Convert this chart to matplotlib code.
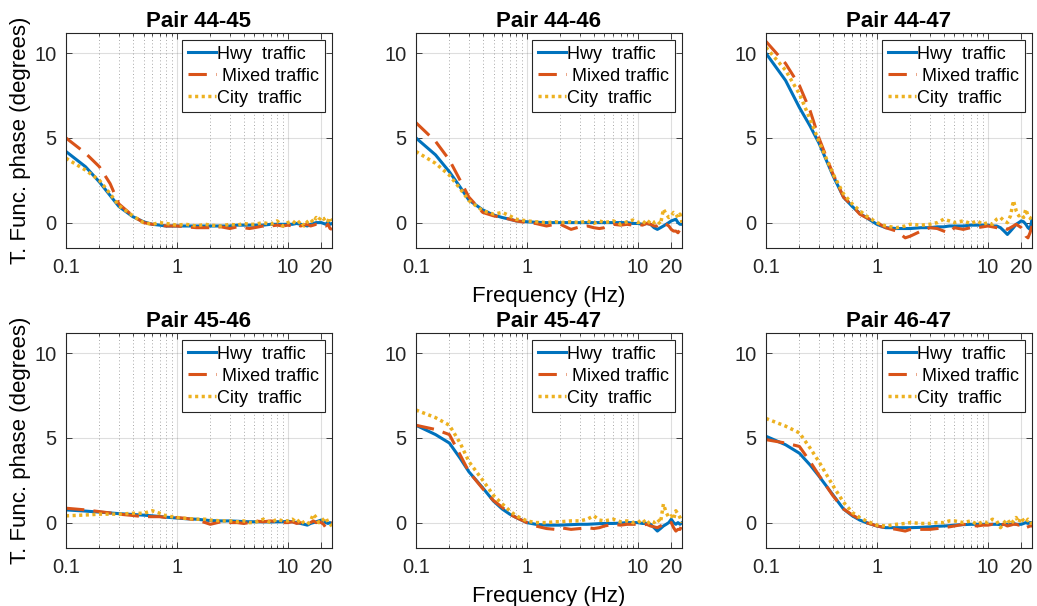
#!/usr/bin/env python3
"""Transfer-function phase vs frequency for six sensor pairs, three traffic types."""
import matplotlib
matplotlib.use("Agg")
import matplotlib.pyplot as plt
from matplotlib.ticker import FixedLocator, NullFormatter

plt.rcParams.update({
    "font.family": ["Liberation Sans", "DejaVu Sans"],
    "font.size": 14,
    "axes.edgecolor": "#262626",
    "xtick.color": "#262626",
    "ytick.color": "#262626",
    "text.color": "#000000",
})

BLUE = "#0072BD"
ORANGE = "#D95319"
YELLOW = "#EDB120"

# shared frequency grid (Hz)
freq = [0.1, 0.15, 0.2, 0.25, 0.3, 0.4, 0.5, 0.6, 0.7, 0.8,
        1.0, 1.2, 1.5, 1.8, 2.0, 2.5, 3.0, 3.5, 4.0, 4.5,
        5, 6, 7, 8, 9, 10, 11, 12, 13, 14,
        15, 16, 17, 18, 19, 20, 21, 22, 23, 24, 25]

pairs = ["Pair 44-45", "Pair 44-46", "Pair 44-47",
         "Pair 45-46", "Pair 45-47", "Pair 46-47"]

# phase (degrees) per pair
hwy_4445 = [4.2, 3.3, 2.4, 1.6, 0.95, 0.35, 0.05, -0.1, -0.15, -0.2,
            -0.2, -0.2, -0.2, -0.2, -0.2, -0.2, -0.2, -0.15, -0.15, -0.15,
            -0.15, -0.15, -0.1, -0.1, -0.1, -0.1, -0.1, -0.05, -0.1, -0.15,
            -0.2, -0.1, -0.05, 0.0, 0.0, 0.0, -0.05, -0.1, 0.05, -0.1, -0.05]
mix_4445 = [5.0, 4.1, 3.3, 2.3, 1.1, 0.4, 0.0, -0.1, -0.15, -0.2,
            -0.2, -0.25, -0.3, -0.3, -0.3, -0.25, -0.35, -0.25, -0.3, -0.35,
            -0.3, -0.2, -0.2, -0.15, -0.2, -0.15, -0.2, -0.1, -0.2, -0.15,
            -0.1, -0.2, -0.15, -0.1, -0.1, -0.1, -0.15, -0.2, -0.1, -0.35, -0.4]
city_4445 = [3.8, 3.1, 2.5, 1.7, 1.0, 0.4, 0.0, -0.1, 0.0, -0.05,
             -0.15, -0.1, -0.2, -0.1, -0.15, -0.2, -0.1, -0.15, -0.05, -0.1,
             -0.1, 0.0, -0.1, 0.1, -0.2, 0.0, 0.1, -0.1, 0.1, -0.2,
             0.05, 0.2, 0.0, 0.3, 0.15, 0.35, 0.2, 0.3, 0.1, 0.3, 0.1]

hwy_4446 = [5.0, 4.0, 3.0, 2.1, 1.33, 0.75, 0.45, 0.3, 0.2, 0.1,
            0.05, 0.02, 0.0, 0.0, 0.0, 0.0, 0.0, 0.0, 0.0, 0.0,
            0.0, 0.0, 0.0, 0.0, -0.05, -0.05, -0.1, -0.05, -0.1, -0.3,
            -0.4, -0.3, -0.2, -0.1, 0.0, 0.1, 0.15, 0.2, 0.0, -0.1, -0.1]
mix_4446 = [5.9, 4.8, 3.7, 2.5, 1.5, 0.6, 0.4, 0.3, 0.2, 0.1,
            0.0, -0.05, -0.2, -0.1, -0.1, -0.4, -0.25, -0.2, -0.3, -0.35,
            -0.3, -0.1, -0.15, -0.1, -0.15, -0.1, -0.15, -0.05, -0.1, -0.2,
            -0.2, -0.1, 0.0, -0.1, -0.2, -0.4, -0.5, -0.5, -0.6, -0.4, -0.2]
city_4446 = [4.2, 3.5, 2.8, 2.0, 1.3, 0.7, 0.5, 0.6, 0.4, 0.2,
             0.1, 0.05, 0.0, 0.05, 0.0, 0.05, 0.0, 0.1, -0.05, 0.1,
             0.0, 0.1, -0.1, 0.05, 0.15, 0.0, 0.1, -0.1, 0.15, 0.0,
             0.1, -0.1, 0.8, 0.5, 0.3, 0.4, 0.6, 0.5, 0.3, 0.5, 0.0]

hwy_4447 = [10.0, 8.4, 6.8, 5.7, 4.7, 2.8, 1.5, 0.95, 0.55, 0.3,
            -0.1, -0.3, -0.35, -0.35, -0.35, -0.3, -0.3, -0.25, -0.25, -0.2,
            -0.2, -0.2, -0.15, -0.15, -0.15, -0.15, -0.2, -0.2, -0.3, -0.5,
            -0.7, -0.5, -0.3, -0.1, 0.0, 0.1, 0.05, -0.1, -0.3, -0.4, 0.2]
mix_4447 = [10.7, 9.4, 8.1, 6.6, 5.0, 2.9, 1.5, 1.0, 0.5, 0.3,
            0.0, -0.3, -0.5, -0.9, -0.8, -0.5, -0.3, -0.35, -0.5, -0.6,
            -0.3, -0.4, -0.3, -0.3, -0.25, -0.2, -0.25, -0.3, -0.35, -0.3,
            -0.4, -0.3, -0.2, -0.1, -0.2, -0.3, -0.5, -0.8, -0.9, -0.6, -0.2]
city_4447 = [10.35, 9.0, 7.6, 6.1, 4.8, 2.9, 1.7, 1.1, 0.7, 0.4,
             0.0, -0.2, -0.3, -0.2, -0.1, -0.15, -0.1, 0.0, 0.2, 0.1,
             0.0, 0.1, -0.05, 0.1, -0.1, 0.0, -0.1, 0.2, 0.3, 0.1,
             0.0, 0.4, 1.3, 0.7, 0.4, 0.5, 0.3, 0.8, 0.4, 0.3, 0.0]

hwy_4546 = [0.75, 0.68, 0.62, 0.57, 0.53, 0.48, 0.44, 0.4, 0.36, 0.32,
            0.27, 0.23, 0.2, 0.15, 0.12, 0.1, 0.1, 0.08, 0.06, 0.05,
            0.05, 0.05, 0.04, 0.05, 0.05, 0.08, 0.05, 0.0, -0.05, -0.1,
            -0.15, -0.05, 0.0, 0.05, 0.1, 0.15, 0.1, 0.0, -0.05, 0.0, -0.1]
mix_4546 = [0.85, 0.75, 0.65, 0.57, 0.5, 0.42, 0.35, 0.35, 0.35, 0.3,
            0.3, 0.25, 0.15, 0.0, -0.1, 0.05, 0.0, 0.0, -0.05, 0.0,
            0.1, 0.05, 0.1, 0.05, 0.0, 0.0, 0.05, -0.05, 0.0, -0.1,
            -0.1, 0.0, 0.1, 0.0, 0.05, 0.0, -0.1, -0.3, -0.2, 0.0, 0.0]
city_4546 = [0.4, 0.45, 0.5, 0.5, 0.5, 0.55, 0.55, 0.7, 0.55, 0.4,
             0.3, 0.25, 0.2, 0.2, 0.15, 0.1, 0.1, 0.05, 0.1, 0.0,
             0.0, 0.2, 0.0, 0.2, 0.1, 0.1, 0.2, 0.0, 0.2, -0.05,
             -0.1, 0.1, 0.5, 0.3, 0.0, 0.0, 0.2, 0.3, 0.0, -0.1, -0.2]

hwy_4547 = [5.75, 5.2, 4.7, 3.8, 3.0, 2.05, 1.27, 0.8, 0.5, 0.3,
            0.0, -0.1, -0.15, -0.15, -0.15, -0.12, -0.1, -0.1, -0.08, -0.06,
            -0.05, -0.05, -0.03, 0.0, 0.0, 0.0, -0.05, -0.05, -0.1, -0.3,
            -0.5, -0.35, -0.2, -0.1, 0.0, 0.2, 0.0, -0.1, 0.0, -0.1, 0.0]
mix_4547 = [5.75, 5.5, 5.2, 4.0, 3.0, 2.0, 1.3, 0.9, 0.5, 0.3,
            0.0, -0.2, -0.35, -0.4, -0.3, -0.4, -0.35, -0.3, -0.35, -0.3,
            -0.2, -0.1, -0.15, -0.1, -0.1, -0.1, -0.15, -0.1, -0.2, -0.25,
            -0.3, -0.2, -0.1, 0.0, 0.05, 0.0, -0.3, -0.5, -0.4, -0.4, -0.1]
city_4547 = [6.65, 6.2, 5.75, 4.7, 3.6, 2.5, 1.6, 1.1, 0.7, 0.4,
             0.1, 0.0, 0.0, 0.05, 0.05, 0.1, 0.1, 0.2, 0.4, 0.15,
             0.1, 0.2, 0.05, 0.1, 0.0, 0.0, 0.2, -0.1, 0.1, 0.0,
             0.2, 0.0, 1.1, 0.6, 0.3, 0.4, 0.2, 0.7, 0.5, 0.3, 0.0]

hwy_4647 = [5.1, 4.6, 4.1, 3.4, 2.75, 1.65, 0.8, 0.4, 0.15, 0.0,
            -0.2, -0.3, -0.3, -0.3, -0.3, -0.28, -0.25, -0.22, -0.2, -0.18,
            -0.15, -0.12, -0.1, -0.1, -0.1, -0.1, -0.1, -0.1, -0.12, -0.1,
            -0.1, -0.1, -0.05, -0.1, -0.1, -0.1, -0.05, 0.0, -0.05, 0.0, 0.0]
mix_4647 = [4.9, 4.7, 4.5, 3.6, 2.8, 1.6, 0.8, 0.45, 0.2, 0.0,
            -0.2, -0.3, -0.4, -0.5, -0.4, -0.4, -0.4, -0.35, -0.3, -0.25,
            -0.2, -0.1, -0.15, -0.2, -0.15, -0.15, -0.1, -0.2, -0.15, -0.1,
            -0.2, -0.15, -0.1, -0.1, -0.15, -0.1, -0.2, -0.3, -0.25, -0.2, -0.2]
city_4647 = [6.15, 5.7, 5.3, 4.4, 3.6, 2.2, 1.2, 0.6, 0.3, 0.1,
             -0.15, -0.2, -0.1, -0.05, 0.0, -0.05, -0.05, 0.0, 0.0, 0.1,
             0.1, 0.0, 0.1, -0.1, 0.05, 0.0, 0.2, 0.1, -0.3, 0.0,
             0.2, -0.1, 0.1, 0.3, 0.0, 0.3, 0.1, 0.0, 0.2, 0.1, -0.1]

hwy = [hwy_4445, hwy_4446, hwy_4447, hwy_4546, hwy_4547, hwy_4647]
mixed = [mix_4445, mix_4446, mix_4447, mix_4546, mix_4547, mix_4647]
city = [city_4445, city_4446, city_4447, city_4546, city_4547, city_4647]

xticks = [0.1, 1, 10, 20]
xticklabels = ["0.1", "1", "10", "20"]
yticks = [0, 5, 10]

fig = plt.figure(figsize=(10.37, 6.06), dpi=100)

W, H = 1037, 606
lefts = [66, 416, 766]
tops = [33, 333]
aw, ah = 266, 215

minor_x = [m * d for d in (0.1, 1, 10) for m in range(2, 10) if m * d < 25 and m * d != 20]

for i, name in enumerate(pairs):
    r, c = divmod(i, 3)
    ax = fig.add_axes([lefts[c] / W, 1 - (tops[r] + ah) / H, aw / W, ah / H])
    ax.set_xscale("log")

    # grid first so data sits on top
    ax.set_axisbelow(True)
    ax.xaxis.set_major_locator(FixedLocator(xticks))
    ax.set_xticklabels(xticklabels)
    ax.xaxis.set_minor_locator(FixedLocator(minor_x))
    ax.xaxis.set_minor_formatter(NullFormatter())
    ax.set_yticks(yticks)
    ax.grid(True, which="major", color="#262626", alpha=0.15, lw=0.8)
    ax.grid(True, which="minor", axis="x", color="#262626", alpha=0.4,
            lw=0.7, linestyle=(0, (1, 2.5)))

    ax.plot(freq, hwy[i], color=BLUE, lw=2.2, label="Hwy  traffic")
    ax.plot(freq, mixed[i], color=ORANGE, lw=2.2, dashes=(6, 3),
            label=" Mixed traffic")
    ax.plot(freq, city[i], color=YELLOW, lw=2.5, dashes=(0.9, 1.0),
            label="City  traffic")

    ax.set_xlim(0.1, 25)
    ax.set_ylim(-1.5, 11.2)
    ax.tick_params(which="both", direction="in", top=True, right=True,
                   labelsize=14.5, width=0.6)
    ax.tick_params(which="major", length=4, pad=7)
    ax.tick_params(which="minor", length=2)
    for s in ax.spines.values():
        s.set_linewidth(0.8)

    ax.set_title(name, fontsize=16, fontweight="bold", pad=4)
    if c == 0:
        ax.set_ylabel("T. Func. phase (degrees)", fontsize=16, labelpad=2)
    if c == 1:
        ax.set_xlabel("Frequency (Hz)", fontsize=16, labelpad=7)

    leg = ax.legend(loc="upper right", fontsize=13, frameon=True,
                    fancybox=False, framealpha=1, edgecolor="#262626",
                    handlelength=1.55, handletextpad=0.1, labelspacing=0.28,
                    borderpad=0.3, borderaxespad=0.4)
    leg.get_frame().set_linewidth(0.8)

plt.savefig("out.png", dpi=100)
